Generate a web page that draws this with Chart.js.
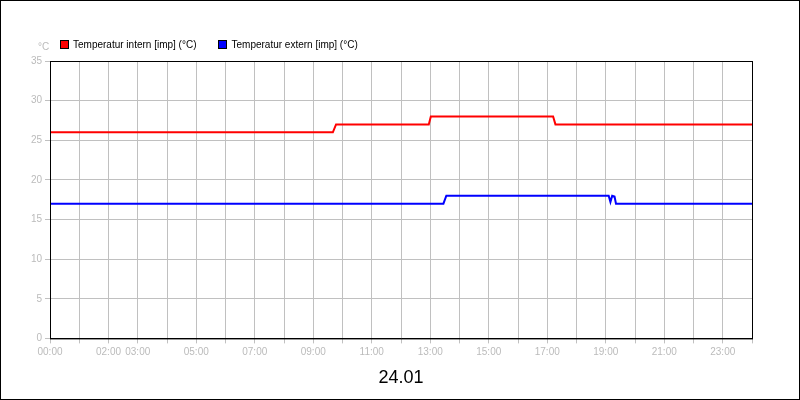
<!DOCTYPE html>
<html>
<head>
<meta charset="utf-8">
<script src="https://cdn.jsdelivr.net/npm/chart.js@4"></script>
<style>
  body { margin: 0; background: #fff; }
  #wrap { position: relative; width: 798px; height: 398px; border: 1px solid #000; }
  #unit { position: absolute; left: 37px; top: 40px; font: 10px "Liberation Sans", sans-serif; color: #bbb; }
  #legend { position: absolute; left: 59px; top: 38px; font: 10px "Liberation Sans", sans-serif; color: #000; }
  #legend span.item { margin-right: 22px; }
  #legend span.box { display: inline-block; width: 7px; height: 7px; border: 1px solid #000; margin-right: 4px; vertical-align: -1px; }
</style>
</head>
<body>
<div id="wrap">
  <canvas id="chart" width="798" height="398"></canvas>
  <div id="unit">°C</div>
  <div id="legend"></div>
</div>
<script>
// Stunden (0-24) und Werte
const hoursIntern = [0, 9.67, 9.78, 12.95, 13.02, 17.2, 17.28, 24];
const tempIntern  = [26, 26, 27, 27, 28, 28, 27, 27];
const hoursExtern = [0, 13.45, 13.55, 19.1, 19.16, 19.22, 19.3, 19.35, 24];
const tempExtern  = [17, 17, 18, 18, 17.2, 18, 17.9, 17, 17];
const tickLabels = {0: '00:00', 2: '02:00', 3: '03:00', 5: '05:00', 7: '07:00', 9: '09:00',
  11: '11:00', 13: '13:00', 15: '15:00', 17: '17:00', 19: '19:00', 21: '21:00', 23: '23:00'};
const seriesNames = ['Temperatur intern [imp] (°C)', 'Temperatur extern [imp] (°C)'];
const seriesColors = ['#ff0000', '#0000ff'];

const toPoints = (xs, ys) => xs.map((x, i) => ({ x: x, y: ys[i] }));

document.getElementById('legend').innerHTML = seriesNames.map((n, i) =>
  '<span class="item"><span class="box" style="background:' + seriesColors[i] + '"></span>' + n + '</span>').join('');

const frame = {
  id: 'frame',
  afterDraw(chart) {
    const a = chart.chartArea, c = chart.ctx;
    c.save();
    c.strokeStyle = '#000';
    c.lineWidth = 1;
    c.strokeRect(a.left + 0.5, a.top + 0.5, a.right - a.left, a.bottom - a.top);
    c.restore();
  }
};

new Chart(document.getElementById('chart'), {
  type: 'line',
  data: {
    datasets: [{
      label: seriesNames[0],
      data: toPoints(hoursIntern, tempIntern),
      borderColor: seriesColors[0], borderWidth: 2, pointRadius: 0, tension: 0
    }, {
      label: seriesNames[1],
      data: toPoints(hoursExtern, tempExtern),
      borderColor: seriesColors[1], borderWidth: 2, pointRadius: 0, tension: 0
    }]
  },
  options: {
    responsive: false,
    animation: false,
    layout: { padding: { left: 0, right: 47, top: 30, bottom: 0 } },
    plugins: {
      title: {
        display: true, text: 'Temperaturen (24h)', color: '#000',
        font: { family: 'Liberation Sans', size: 25, weight: 'normal' },
        padding: { top: 0, bottom: 0 },
        position: 'top'
      },
      legend: { display: false },
      tooltip: { enabled: false }
    },
    scales: {
      x: {
        type: 'linear', min: 0, max: 24,
        ticks: {
          stepSize: 1, autoSkip: false, maxRotation: 0, color: '#bbb',
          font: { family: 'Liberation Sans', size: 10 },
          callback: v => tickLabels[v] || ''
        },
        grid: { color: '#c0c0c0', tickLength: 5 },
        border: { color: '#000' },
        title: { display: true, text: '24.01', color: '#000', font: { family: 'Liberation Sans', size: 18 }, padding: { top: 6, bottom: 10 } }
      },
      y: {
        min: 0, max: 35,
        afterFit: s => { s.width = 49; },
        ticks: { stepSize: 5, color: '#bbb', font: { family: 'Liberation Sans', size: 10 } },
        grid: { color: '#c0c0c0', tickLength: 5 },
        border: { color: '#000' }
      }
    }
  },
  plugins: [frame, {
    id: 'titleTop',
    afterLayout(chart) {
      // Titel ganz oben halten, Abstand zum Plot durch padding
      chart.titleBlock.top = -30 + 2;
    }
  }]
});
</script>
</body>
</html>
